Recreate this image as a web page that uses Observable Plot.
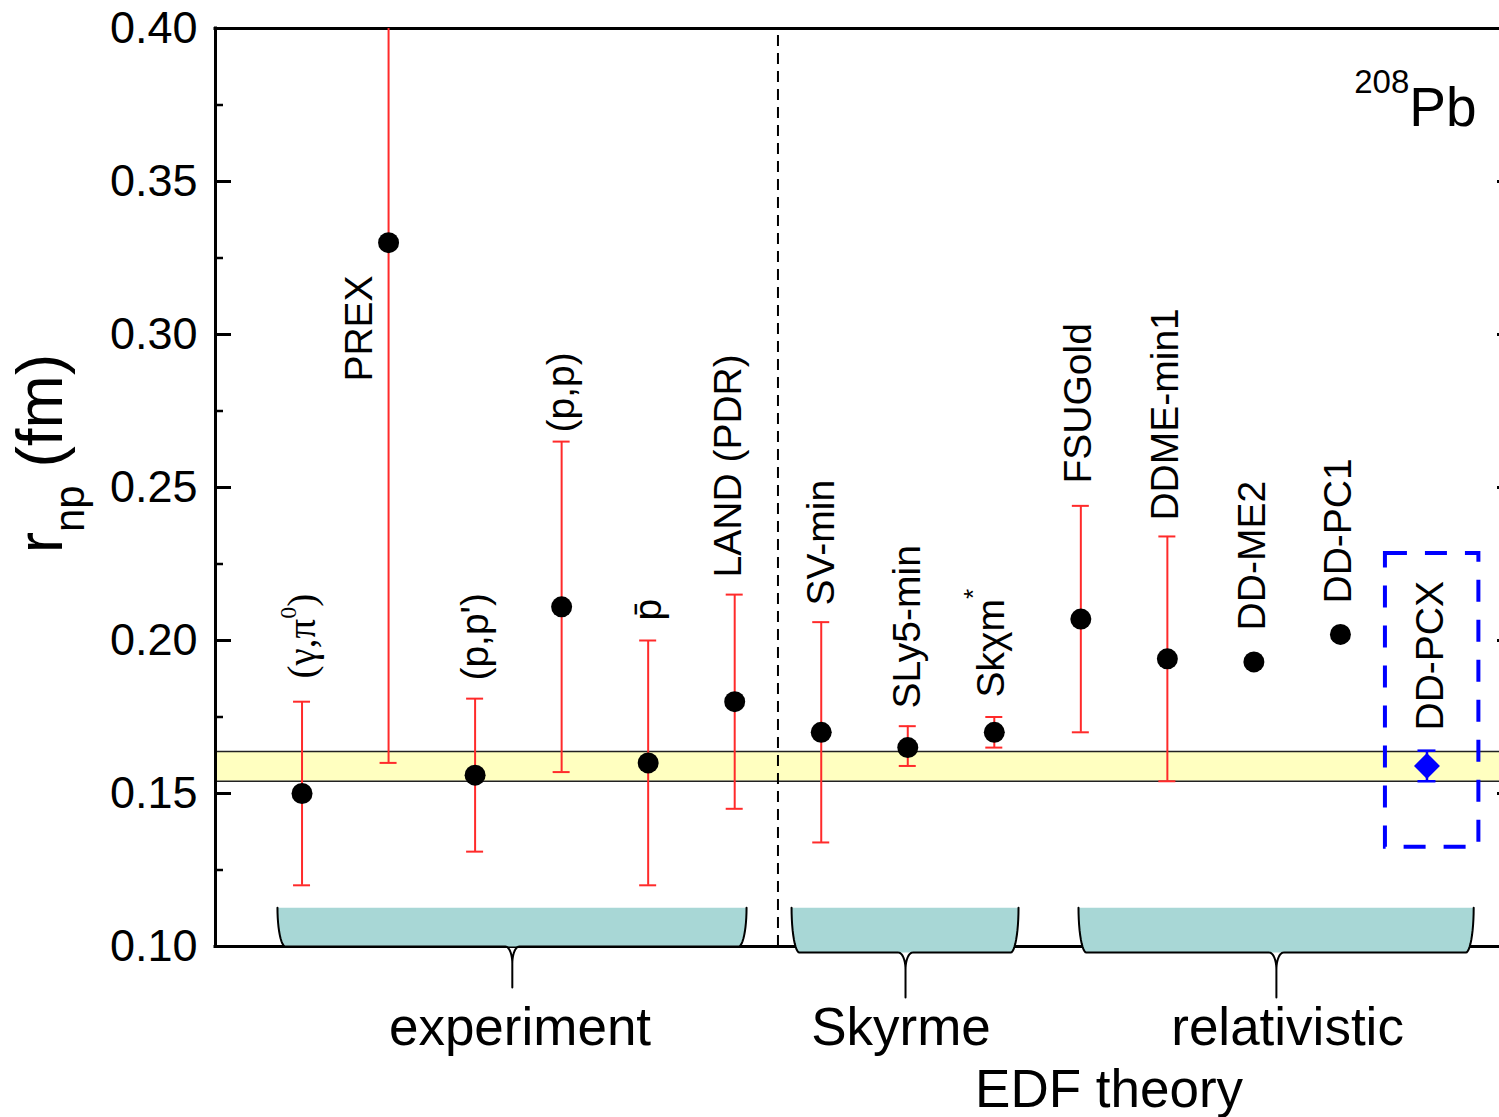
<!DOCTYPE html>
<html>
<head>
<meta charset="utf-8">
<script src="https://cdn.jsdelivr.net/npm/d3@7"></script>
<script src="https://cdn.jsdelivr.net/npm/@observablehq/plot@0.6"></script>
<style>
  html, body { margin: 0; padding: 0; overflow: hidden; background: #fff; }
</style>
</head>
<body>
<div id="chart"></div>
<script>
// ---------------- data ----------------
const labels = ["(γ,π0)", "PREX", "(p,p')", "(p,p)", "p\u0304", "LAND (PDR)", "SV-min", "SLy5-min",
                "Skχm*", "FSUGold", "DDME-min1", "DD-ME2", "DD-PC1", "DD-PCX"];
const positions = [1, 2, 3, 4, 5, 6, 7, 8, 9, 10, 11, 12, 13, 14];
const rnp     = [0.150, 0.330, 0.156, 0.211, 0.160, 0.180, 0.170, 0.165, 0.170, 0.207, 0.194, 0.193, 0.202, 0.159];
const errLow  = [0.120, 0.160, 0.131, 0.157, 0.120, 0.145, 0.134, 0.159, 0.165, 0.170, 0.154, null, null, 0.154];
const errHigh = [0.180, 0.490, 0.181, 0.265, 0.200, 0.215, 0.206, 0.172, 0.175, 0.244, 0.234, null, null, 0.164];
const highlightedModel = "DD-PCX";

// label anchors
const labelX = [1.0, 1.66, 3.0, 4.0, 5.0, 5.93, 7.0, 8.0, 8.97, 9.97, 10.98, 11.98, 12.98, 14.04];
const labelY = [0.1876, 0.2846, 0.1869, 0.2680, 0.2065, 0.2206, 0.2114, 0.1778, 0.1814, 0.2513, 0.2392, 0.2033, 0.2121, 0.1706];

const yTicks = [0.10, 0.15, 0.20, 0.25, 0.30, 0.35, 0.40];
const yMinorTicks = [0.125, 0.175, 0.225, 0.275, 0.325, 0.375];
const xDomain = [0, 15];
const yDomain = [0.10, 0.40];
const separatorX = [6.5];
const band = [{lo: 0.154, hi: 0.1637}];
const highlightBox = [{x1: 13.52, x2: 14.6, y1: 0.1324, y2: 0.2284}];

// group braces
const groups = ["experiment", "Skyrme", "relativistic"];
const braceStart = [0.716, 6.657, 9.973];
const braceEnd = [6.137, 9.28, 14.54];
const braceTip = [3.43, 7.974, 12.26];
const braceTop = 0.1127;
const braceBottom = [0.100, 0.098, 0.098];
const braceTipBottom = [0.0866, 0.0833, 0.0833];
const groupLabelX = [3.519, 7.922, 12.389];
const groupLabelY = 0.0677;
const theoryLabel = [{text: "EDF theory", x: 10.326, y: 0.0474}];
const isotopeLabel = [{text: "208Pb", x: 14.573, y: 0.3683}];
const yLabel = [{text: "rnp (fm)", x: -1.77, y: 0.2611}];

// ---------------- layout ----------------
const W = 1513, H = 1117, ML = 215, MR = 0, MT = 28, MB = 171;
const kx = (xDomain[1] - xDomain[0]) / (W - ML - MR);   // data units per pixel
const ky = (yDomain[1] - yDomain[0]) / (H - MT - MB);
const RED = "#ff2a2a", BLUE = "#0000ff", TEAL = "#a8d7d6";

const rows = positions.map((x, i) => ({
  x, y: rnp[i], lo: errLow[i], hi: errHigh[i], label: labels[i], lx: labelX[i], ly: labelY[i],
  blue: labels[i] === highlightedModel
}));
const errRed = rows.filter(d => d.lo != null && !d.blue);
const errBlue = rows.filter(d => d.lo != null && d.blue);
const capsOf = arr => arr.flatMap(d => [{x: d.x, y: d.lo}, {x: d.x, y: d.hi}]);

function braceParts(i) {
  const L = braceStart[i], R = braceEnd[i], C = braceTip[i], T = braceTop, B = braceBottom[i], P = braceTipBottom[i];
  const a = 8 * kx, w = 7 * kx, h = 17 * ky, n = 12;
  const left = [], right = [], cl = [], cr = [];
  for (let k = 0; k <= n; k++) {
    const f = Math.PI - (Math.PI / 2) * k / n;
    left.push([L + a * (1 + Math.cos(f)), T - (T - B) * Math.sin(f)]);
  }
  for (let k = 0; k <= n; k++) {
    const f = -Math.PI / 2 + (Math.PI / 2) * k / n;
    cl.push([C - w + w * Math.cos(f), B - h * (1 + Math.sin(f))]);
  }
  for (let k = n; k >= 0; k--) {
    const f = -Math.PI / 2 + (Math.PI / 2) * k / n;
    cr.push([C + w - w * Math.cos(f), B - h * (1 + Math.sin(f))]);
  }
  for (let k = n; k >= 0; k--) {
    const f = Math.PI - (Math.PI / 2) * k / n;
    right.push([R - a * (1 + Math.cos(f)), T - (T - B) * Math.sin(f)]);
  }
  const outline = [...left, ...cl, [C, P], ...cr, ...right].map(([x, y]) => ({id: i, x, y}));
  const fill = [...left, ...right].map(([x, y]) => ({id: i, x, y}));
  return {outline, fill};
}
const braces = groups.map((g, i) => braceParts(i));
const braceOutline = braces.flatMap(b => b.outline);
const braceFill = braces.flatMap(b => b.fill);
const groupRows = groups.map((g, i) => ({text: g, x: groupLabelX[i], y: groupLabelY}));

const chart = Plot.plot({
  width: W, height: H,
  marginLeft: ML, marginRight: MR, marginTop: MT, marginBottom: MB,
  style: "font-family: 'Liberation Sans', Arial, sans-serif; max-width: none; background: white; overflow: visible;",
  x: {domain: xDomain, axis: null},
  y: {domain: yDomain, axis: null},
  marks: [
    // experimental band
    Plot.rect(band, {x1: () => xDomain[0], x2: () => xDomain[1], y1: "lo", y2: "hi", fill: "#ffffc0"}),
    Plot.ruleY(band.flatMap(b => [b.lo, b.hi]), {stroke: "#222", strokeWidth: 1.5}),
    // separator
    Plot.ruleX(separatorX, {y1: () => yDomain[0], y2: () => yDomain[1], stroke: "black", strokeWidth: 2, strokeDasharray: "11,7"}),
    // frame
    Plot.ruleY(yDomain, {x1: () => xDomain[0], x2: () => xDomain[1], stroke: "black", strokeWidth: 3, strokeLinecap: "square"}),
    Plot.ruleX(xDomain, {y1: () => yDomain[0], y2: () => yDomain[1], stroke: "black", strokeWidth: 3, strokeLinecap: "square"}),
    // inward ticks
    Plot.ruleY(yTicks, {x1: () => xDomain[0], x2: () => xDomain[0], insetRight: -16, stroke: "black", strokeWidth: 3}),
    Plot.ruleY(yMinorTicks, {x1: () => xDomain[0], x2: () => xDomain[0], insetRight: -8, stroke: "black", strokeWidth: 2.5}),
    Plot.ruleY(yTicks, {x1: () => xDomain[1], x2: () => xDomain[1], insetLeft: -16, stroke: "black", strokeWidth: 3}),
    Plot.ruleY(yMinorTicks, {x1: () => xDomain[1], x2: () => xDomain[1], insetLeft: -8, stroke: "black", strokeWidth: 2.5}),
    Plot.axisY({ticks: yTicks, tickSize: 0, tickPadding: 18, tickFormat: d3.format(".2f"), fontSize: 45, label: null}),
    // braces
    Plot.line(braceFill, {x: "x", y: "y", z: "id", fill: TEAL, stroke: "none"}),
    Plot.line(braceOutline, {x: "x", y: "y", z: "id", stroke: "black", strokeWidth: 2, fill: "none"}),
    Plot.text(groupRows, {x: "x", y: "y", text: "text", fontSize: 53, lineAnchor: "bottom", textAnchor: "middle", fill: "black"}),
    Plot.text(theoryLabel, {x: "x", y: "y", text: "text", fontSize: 53, lineAnchor: "bottom", textAnchor: "middle", fill: "black"}),
    // highlight box
    Plot.rect(highlightBox, {x1: "x1", x2: "x2", y1: "y1", y2: "y2", fill: "none", stroke: BLUE, strokeWidth: 4, strokeDasharray: "22,18"}),
    // error bars
    Plot.ruleX(errRed, {x: "x", y1: "lo", y2: "hi", stroke: RED, strokeWidth: 2, clip: true}),
    Plot.ruleY(capsOf(errRed), {y: "y", x1: "x", x2: "x", insetLeft: -8.5, insetRight: -8.5, stroke: RED, strokeWidth: 2, clip: true}),
    Plot.ruleX(errBlue, {x: "x", y1: "lo", y2: "hi", stroke: BLUE, strokeWidth: 2.5}),
    Plot.ruleY(capsOf(errBlue), {y: "y", x1: "x", x2: "x", insetLeft: -9, insetRight: -9, stroke: BLUE, strokeWidth: 2.5}),
    // points
    Plot.dot(rows.filter(d => !d.blue), {x: "x", y: "y", r: 10.5, fill: "black", stroke: "none"}),
    Plot.dot(rows.filter(d => d.blue), {x: "x", y: "y", r: 11.7, symbol: "diamond2", fill: BLUE, stroke: "none"}),
    // labels
    Plot.text(rows, {x: "lx", y: "ly", text: "label", rotate: -90, textAnchor: "start", fontSize: 39, fill: "black"}),
    Plot.text(isotopeLabel, {x: "x", y: "y", text: "text", fontSize: 55, textAnchor: "end", lineAnchor: "bottom", fill: "black"}),
    Plot.text(yLabel, {x: "x", y: "y", text: "text", rotate: -90, fontSize: 64, textAnchor: "middle", lineAnchor: "bottom", fill: "black"})
  ]
});
document.getElementById("chart").appendChild(chart);

// rich text (super/subscripts)
d3.select(chart).selectAll("text").each(function () {
  const t = this.textContent;
  const s = d3.select(this);
  if (t === "(γ,π0)") {
    s.text(null).attr("font-family", "'Liberation Serif', 'Times New Roman', serif");
    s.append("tspan").text("(γ,π");
    s.append("tspan").attr("font-size", 24).attr("dy", -19).text("0");
    s.append("tspan").attr("dy", 19).text(")");
  } else if (t === "Skχm*") {
    s.text(null);
    s.append("tspan").text("Skχm");
    s.append("tspan").attr("font-size", 26).attr("dy", -22).text("*");
  } else if (t === "208Pb") {
    s.text(null);
    s.append("tspan").attr("font-size", 33).attr("dy", -33).text("208");
    s.append("tspan").attr("dy", 33).text("Pb");
  } else if (t === "rnp (fm)") {
    s.text(null);
    s.append("tspan").text("r");
    s.append("tspan").attr("font-size", 42).attr("dy", 22).text("np");
    s.append("tspan").attr("dy", -22).text(" (fm)");
  }
});
</script>
</body>
</html>
